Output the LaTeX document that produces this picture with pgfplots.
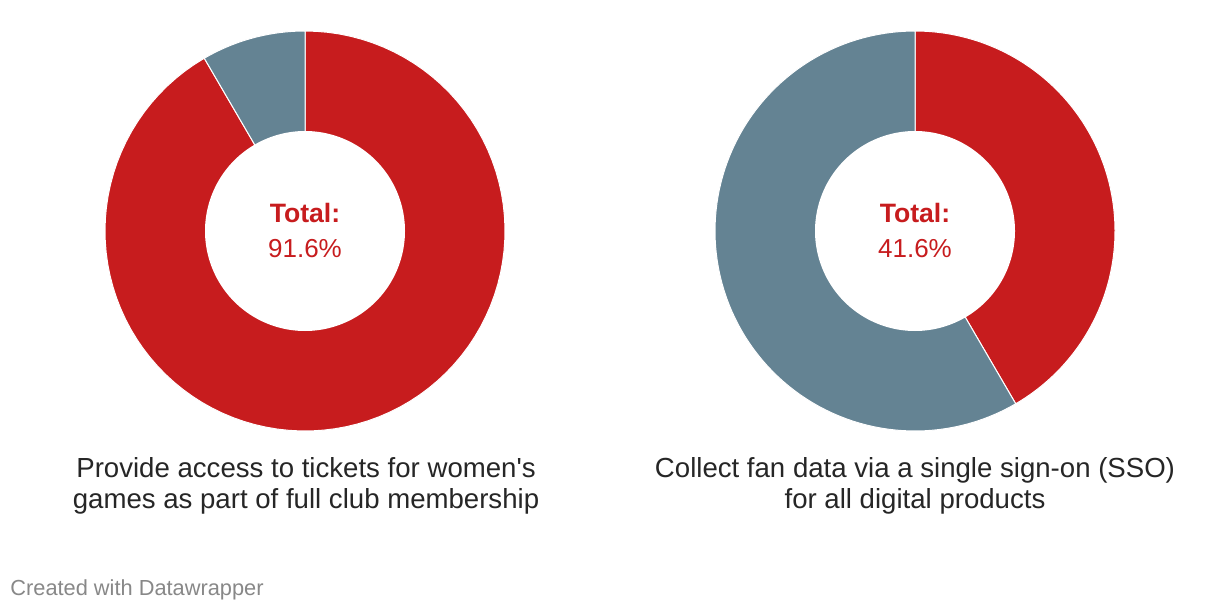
\documentclass[border=0pt]{standalone}
\usepackage{pgfplots}
\pgfplotsset{compat=1.18}
\usepackage{fontspec}
\setmainfont{Liberation Sans}
\setmonofont{Liberation Sans}
\definecolor{dwred}{HTML}{C71C1E}
\definecolor{dwgrey}{HTML}{648393}
\definecolor{dwfoot}{HTML}{888888}
% shares (percent), clockwise from 12 o'clock
\def\vA{91.6}
\def\vB{41.6}
\pgfplotsset{
  donut/.style={hide axis, scale only axis, width=200pt, height=200pt,
    xmin=-1, xmax=1, ymin=-1, ymax=1, clip=false, anchor=center},
  wedge/.style={draw=white, line width=0.5pt, samples at={-1,0,0.01,...,0.99,1,2}},
}
% wedge from share s0 to s1 (percent), radius 1
\newcommand{\piewedge}[3]{%
  \addplot[fill=#1, wedge]
    ({ifthenelse(x<0 || x>1, 0, cos(90-3.6*(#2+(#3-#2)*x)))},
     {ifthenelse(x<0 || x>1, 0, sin(90-3.6*(#2+(#3-#2)*x)))});
}
\newcommand{\piehole}{%
  \addplot[fill=white, draw=none, domain=0:360, samples=181]
    ({0.5*cos(x)}, {0.5*sin(x)});
}
\begin{document}
\begin{tikzpicture}
\path[use as bounding box, fill=white] (0,0) rectangle (610pt,306pt);
\begin{axis}[donut, at={(152.5pt,190.5pt)}]
  \piewedge{dwred}{0}{\vA}
  \piewedge{dwgrey}{\vA}{100}
  \piehole
\end{axis}
\begin{axis}[donut, at={(457.5pt,190.5pt)}]
  \piewedge{dwred}{0}{\vB}
  \piewedge{dwgrey}{\vB}{100}
  \piehole
\end{axis}
\node[text=dwred, font=\fontsize{13.3}{15}\selectfont\bfseries] at (152.5pt,199.5pt) {Total:};
\node[text=dwred, font=\fontsize{13}{15}\selectfont] at (152.5pt,181.5pt) {91.6\%};
\node[text=dwred, font=\fontsize{13.3}{15}\selectfont\bfseries] at (457.5pt,199.5pt) {Total:};
\node[text=dwred, font=\fontsize{13}{15}\selectfont] at (457.5pt,181.5pt) {41.6\%};
\node[align=center, font=\fontsize{13.8}{15.5}\selectfont, text=black!85] at (153pt,63pt) {Provide access to tickets for women{\ttfamily '}s\\games as part of full club membership};
\node[align=center, font=\fontsize{13.8}{15.5}\selectfont, text=black!85] at (457.5pt,63pt) {Collect fan data via a single sign-on (SSO)\\for all digital products};
\node[anchor=west, text=dwfoot, font=\fontsize{10.9}{12}\selectfont, inner sep=0pt] at (5pt,11pt) {Created with Datawrapper};
\end{tikzpicture}
\end{document}
